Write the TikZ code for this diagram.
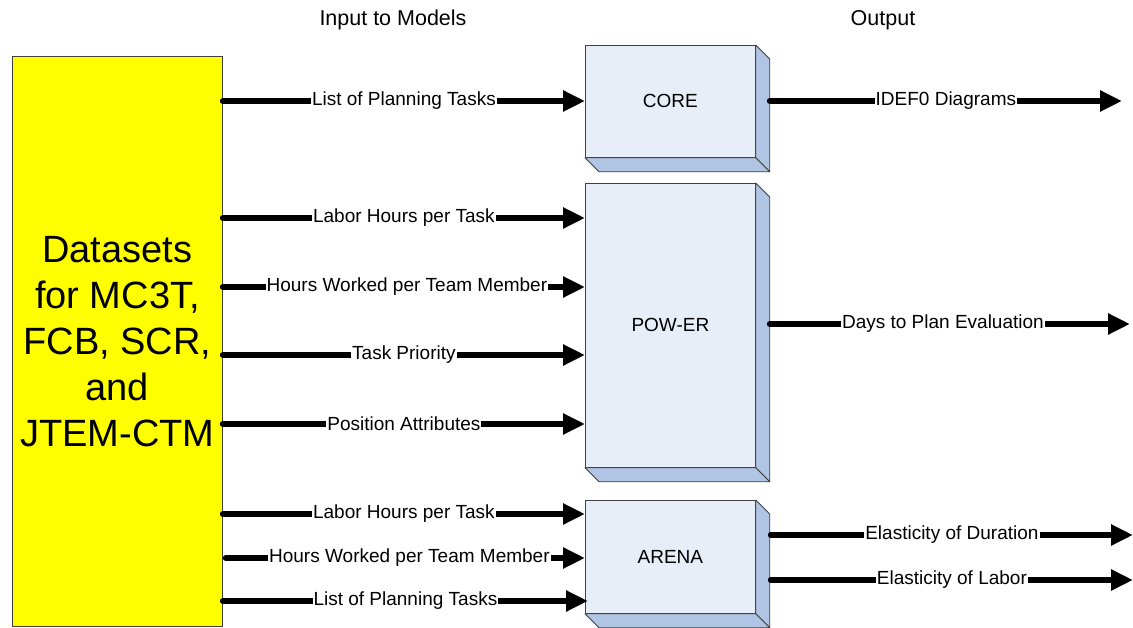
\documentclass[tikz,border=0pt]{standalone}
\usepackage{fontspec}
\setmainfont{Liberation Sans}
\usetikzlibrary{arrows.meta}
\definecolor{boxfront}{RGB}{232,238,248}
\definecolor{boxside}{RGB}{176,196,228}
\definecolor{edgegray}{RGB}{64,64,64}
\definecolor{dsyellow}{RGB}{255,255,0}
\begin{document}
\begin{tikzpicture}[x=1pt,y=-1pt,
  lab/.style={fill=white,inner sep=1pt,font=\fontsize{19}{22}\selectfont},
  flow/.style={line width=6pt,line cap=round,-{Triangle[length=22pt,width=20pt]}},
  model/.style={draw=edgegray,line width=0.8pt,fill=boxfront,minimum width=170pt,
    anchor=north west,inner sep=0pt,font=\fontsize{19}{22}\selectfont},
  depthface/.style={draw=edgegray,line width=0.8pt,fill=boxside,line join=round},
  headtext/.style={font=\fontsize{21.5}{24}\selectfont}]
\useasboundingbox (0,0) rectangle (1133,628);

% headings
\node[headtext] (hin) at (393,20) {Input to Models};
\node[headtext] (hout) at (883,20) {Output};

% datasets box
\node[draw=edgegray,line width=0.8pt,fill=dsyellow,minimum width=210pt,minimum height=570pt,
  anchor=north west,align=center,inner sep=0pt,
  font=\fontsize{38}{46}\selectfont] (ds) at (12,56)
  {Datasets\\for MC3T,\\FCB, SCR,\\and\\JTEM-CTM};

% model boxes
\node[model,minimum height=112pt] (core) at (585,45) {CORE};
\node[model,minimum height=284pt] (power) at (585,183) {POW-ER};
\node[model,minimum height=113pt] (arena) at (585,500) {ARENA};

\foreach \b in {core,power,arena}{
  \draw[depthface] (\b.north east) -- ++(14,14) -- ([shift={(14,14)}]\b.south east)
    -- (\b.south east) -- cycle;
  \draw[depthface] (\b.south west) -- (\b.south east) -- ++(14,14)
    -- ([shift={(14,14)}]\b.south west) -- cycle;
}

% row coordinates
\coordinate (r1) at (0,101);
\coordinate (r2) at (0,218);
\coordinate (r3) at (0,287);
\coordinate (r4) at (0,355);
\coordinate (r5) at (0,424);
\coordinate (r6) at (0,514);
\coordinate (r7) at (0,558);
\coordinate (r8) at (0,601);
\coordinate (e1) at (1122,101);
\coordinate (e2) at (1130,324);
\coordinate (e3) at (1133,535);
\coordinate (e4) at (1133,580);

% inputs
\draw[flow] (ds.east |- r1) -- (core.west |- r1) node[lab,midway] (l1) {List of Planning Tasks};
\draw[flow] (ds.east |- r2) -- (power.west |- r2) node[lab,midway] (l2) {Labor Hours per Task};
\draw[flow] (ds.east |- r3) -- (power.west |- r3) node[lab,midway,xshift=3pt] (l3) {Hours Worked per Team Member};
\draw[flow] (ds.east |- r4) -- (power.west |- r4) node[lab,midway] (l4) {Task Priority};
\draw[flow] (ds.east |- r5) -- (power.west |- r5) node[lab,midway] (l5) {Position Attributes};
\draw[flow] (ds.east |- r6) -- (arena.west |- r6) node[lab,midway] (l6) {Labor Hours per Task};
\draw[flow] ([xshift=3pt]ds.east |- r7) -- (arena.west |- r7) node[lab,midway,xshift=4pt] (l7) {Hours Worked per Team Member};
\draw[flow] (ds.east |- r8) -- ([xshift=3pt]arena.west |- r8) node[lab,midway] (l8) {List of Planning Tasks};

% outputs
\draw[flow] ([xshift=14pt]core.east |- e1) -- (e1) node[lab,midway] (o1) {IDEF0 Diagrams};
\draw[flow] ([xshift=14pt]power.east |- e2) -- (e2) node[lab,midway,xshift=-7pt] (o2) {Days to Plan Evaluation};
\draw[flow] ([xshift=15pt]arena.east |- e3) -- (e3) node[lab,midway] (o3) {Elasticity of Duration};
\draw[flow] ([xshift=15pt]arena.east |- e4) -- (e4) node[lab,midway] (o4) {Elasticity of Labor};
\end{tikzpicture}
\end{document}
